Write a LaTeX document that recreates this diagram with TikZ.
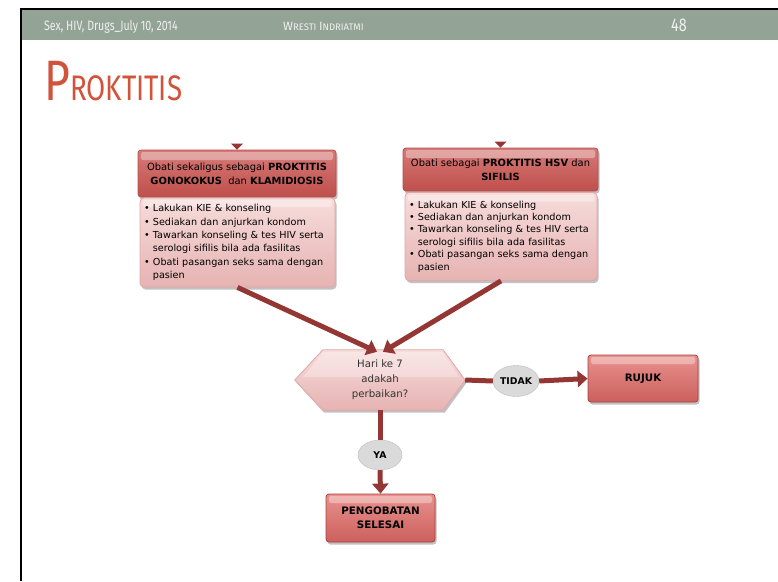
\documentclass[tikz,border=0pt]{standalone}
\usepackage{fontspec}
\setmainfont{DejaVu Sans}
\newfontfamily\hdrfont{Fira Sans}[FakeStretch=0.78]
\newfontfamily\hdrwide{Fira Sans}
\usetikzlibrary{arrows.meta,calc,shadows,backgrounds,shapes.geometric}

\definecolor{hdrgray}{HTML}{93A396}
\definecolor{ttlred}{HTML}{D2533C}
\definecolor{connred}{HTML}{943634}
\definecolor{headtop}{HTML}{D67A77}
\definecolor{headbot}{HTML}{BF4F4C}
\definecolor{headedge}{HTML}{B3504D}
\definecolor{bodytop}{HTML}{F6DCDB}
\definecolor{bodybot}{HTML}{E6B3B2}
\definecolor{bodyedge}{HTML}{E0A9A8}
\definecolor{endtop}{HTML}{E8918E}
\definecolor{endbot}{HTML}{CC605D}
\definecolor{endedge}{HTML}{A8423F}
\definecolor{pilledge}{HTML}{BDBDBD}
\definecolor{pillfill}{HTML}{DADADA}

\tikzset{
  softshadow/.style={drop shadow={shadow xshift=1.5pt,shadow yshift=-2.5pt,opacity=0.4,fill=black!60}},
  gloss/.style={path picture={\fill[white,opacity=0.35,rounded corners=2pt]
      ($(path picture bounding box.north west)+(3,2)$) rectangle
      ($(path picture bounding box.north east)+(-3,#1)$);}},
  headbox/.style={draw=headedge,line width=0.8pt,rounded corners=3pt,
      top color=headtop,bottom color=headbot,softshadow,gloss=10,
      align=center,font=\fontsize{9.9}{13.8}\selectfont,inner sep=2pt},
  bodybox/.style={draw=bodyedge,line width=0.8pt,rounded corners=4pt,
      top color=bodytop,bottom color=bodybot,softshadow,gloss=9,
      align=left,inner xsep=4pt},
  endbox/.style={draw=endedge,line width=0.8pt,rounded corners=3pt,
      top color=endtop,bottom color=endbot,softshadow,gloss=9,
      align=center,font=\bfseries\fontsize{10.3}{14}\selectfont},
  pill/.style={ellipse,draw=pilledge,fill=pillfill,inner sep=0pt,
      font=\bfseries\fontsize{9.3}{10}\selectfont},
  conn/.style={draw=connred,line width=5pt},
  connarrow/.style={conn,-{Triangle[width=16pt,length=10pt]}},
  stub/.style={fill=connred},
}

\begin{document}
\begin{tikzpicture}[x=1pt,y=-1pt]
\useasboundingbox (0,0) rectangle (778,581);
\begin{pgfonlayer}{background}
\fill[white] (0,0) rectangle (778,581);
\end{pgfonlayer}

% slide frame and header bar
\fill[hdrgray] (21,9) rectangle (778,40);
\draw[black,line width=2pt] (21,581) -- (21,9) -- (778,9);

\node[anchor=base west,text=white!94!black,inner sep=0pt] (hdrleft) at (44,30)
  {\hdrfont\fontsize{13.6}{13.6}\selectfont Sex, HIV, Drugs\_July 10, 2014};
\node[anchor=base west,text=white!94!black,inner sep=0pt] (hdrmid) at (283,30)
  {\hdrwide{\fontsize{12}{12}\selectfont W}{\fontsize{9.5}{9.5}\selectfont RESTI }{\fontsize{12}{12}\selectfont I}{\fontsize{9.5}{9.5}\selectfont NDRIATMI}};
\node[anchor=base west,text=white!94!black,inner sep=0pt] (pagenum) at (671,31)
  {\hdrfont\fontsize{18.5}{18.5}\selectfont 48};

% slide title
\node[anchor=base west,text=ttlred,inner sep=0pt] (title) at (44,100)
  {\hdrfont{\fontsize{57}{57}\selectfont P}{\fontsize{35.5}{35.5}\selectfont ROKTITIS}};

% left treatment box
\node[headbox,minimum width=198pt,minimum height=47pt] (b1head) at (237,173.5)
  {Obati sekaligus sebagai \textbf{PROKTITIS}\\\textbf{GONOKOKUS}\ \ dan \textbf{KLAMIDIOSIS}};
\node[bodybox,font=\fontsize{9.65}{13.3}\selectfont,minimum width=195pt,minimum height=89pt,text width=187pt] (b1body) at (237.5,242.5)
  {\textbullet\ Lakukan KIE \& konseling\\
   \textbullet\ Sediakan dan anjurkan kondom\\
   \textbullet\ Tawarkan konseling \& tes HIV serta\\
   \phantom{\textbullet\ }serologi sifilis bila ada fasilitas\\
   \textbullet\ Obati pasangan seks sama dengan\\
   \phantom{\textbullet\ }pasien};

% right treatment box
\node[headbox,minimum width=195pt,minimum height=43pt] (b2head) at (500.5,169.5)
  {Obati sebagai \textbf{PROKTITIS HSV} dan\\\textbf{SIFILIS}};
\node[bodybox,font=\fontsize{9.65}{12.4}\selectfont,minimum width=192pt,minimum height=88pt,text width=184pt] (b2body) at (501,236.5)
  {\textbullet\ Lakukan KIE \& konseling\\
   \textbullet\ Sediakan dan anjurkan kondom\\
   \textbullet\ Tawarkan konseling \& tes HIV serta\\
   \phantom{\textbullet\ }serologi sifilis bila ada fasilitas\\
   \textbullet\ Obati pasangan seks sama dengan\\
   \phantom{\textbullet\ }pasien};

% incoming arrow tips above both boxes
\fill[stub] ($(b1head.north)+(-6,-6)$) -- ($(b1head.north)+(6,-6)$) -- (b1head.north) -- cycle;
\fill[stub] ($(b2head.north)+(-6,-6)$) -- ($(b2head.north)+(6,-6)$) -- (b2head.north) -- cycle;

% decision
\node[minimum width=170pt,minimum height=60pt,align=center,text=black!80,
      font=\fontsize{10.2}{15}\selectfont] (dec) at (380,380)
  {Hari ke 7\\adakah\\perbaikan?};
\begin{pgfonlayer}{background}
\path[draw=bodyedge,line width=0.8pt,top color=bodytop,bottom color=bodybot,softshadow]
  (dec.west) -- ($(dec.north west)+(28,0)$) -- ($(dec.north east)+(-22,0)$) --
  (dec.east) -- ($(dec.south east)+(-22,0)$) -- ($(dec.south west)+(28,0)$) -- cycle;
\fill[white,opacity=0.3] ($(dec.west)+(8,-3)$) -- ($(dec.north west)+(29,2)$) --
  ($(dec.north east)+(-23,2)$) -- ($(dec.east)+(-6,-3)$) -- cycle;
\end{pgfonlayer}

% outcomes
\node[pill,minimum width=46pt,minimum height=31pt] (tidak) at (516,381) {TIDAK};
\node[endbox,minimum width=110pt,minimum height=47pt] (rujuk) at (643,378.5) {RUJUK};
\node[pill,minimum width=44pt,minimum height=30pt] (ya) at (380,455) {YA};
\node[endbox,minimum width=109pt,minimum height=48pt] (peng) at (380.5,518) {PENGOBATAN\\SELESAI};

% connectors
\draw[connarrow] (b1body.south) -- ($(dec.north)+(-3,2)$);
\draw[connarrow] (b2body.south) -- ($(dec.north)+(3,2)$);
\draw[conn] (dec.east) -- (tidak.west);
\draw[connarrow] (tidak.east) -- (rujuk.west);
\draw[conn] (dec.south) -- (ya.north);
\draw[connarrow] (ya.south) -- (peng.north);
\end{tikzpicture}
\end{document}
